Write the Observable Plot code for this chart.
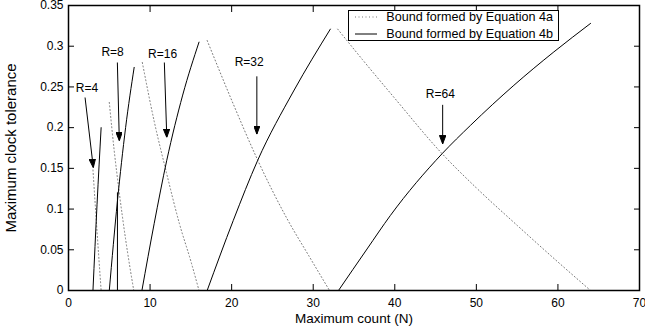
<!DOCTYPE html>
<html><head><meta charset="utf-8">
<script src="https://cdn.jsdelivr.net/npm/d3@7"></script>
<script src="https://cdn.jsdelivr.net/npm/@observablehq/plot@0.6"></script>
<style>
body{margin:0;background:#fff;font-family:"Liberation Sans",Arial,Helvetica,sans-serif;}
#wrap{position:relative;width:645px;height:335px;}
#legend{position:absolute;left:348px;top:10px;width:209px;height:29px;border:1px solid #000;background:#fff;font-size:12.6px;color:#000;}
#legend .row{position:absolute;left:0;right:0;height:16px;}
#legend svg{position:absolute;left:6px;top:0;}
#legend span{position:absolute;right:5px;top:0;line-height:16px;white-space:nowrap;}
</style></head>
<body><div id="wrap"><div id="chart"></div>
<div id="legend">
  <div class="row" style="top:-2px"><svg width="24" height="16"><line x1="0" x2="22" y1="8" y2="8" stroke="#777" stroke-dasharray="1 2.5"/></svg><span id="leg1"></span></div>
  <div class="row" style="top:14.5px"><svg width="24" height="16"><line x1="0" x2="22" y1="8" y2="8" stroke="#000"/></svg><span id="leg2"></span></div>
</div></div>
<script>
// Tick values
const xTicks = [0, 10, 20, 30, 40, 50, 60, 70];
const yTicks = [0, 0.05, 0.1, 0.15, 0.2, 0.25, 0.3, 0.35];
const legendLabels = ["Bound formed by Equation 4a", "Bound formed by Equation 4b"];

// Equation 4a (dotted) bounds, per R
const eq4a_R4_N = [3.0, 3.5, 4.0];
const eq4a_R4_T = [0.148, 0.072, 0.0];
const eq4a_R8_N = [5.0, 5.6, 6.2, 7.0, 8.0];
const eq4a_R8_T = [0.231, 0.172, 0.122, 0.063, 0.0];
const eq4a_R16_N = [9.05, 10.5, 12.0, 13.6, 15.0, 16.0];
const eq4a_R16_T = [0.280, 0.208, 0.145, 0.082, 0.036, 0.0];
const eq4a_R32_N = [17.0, 20.2, 23.2, 26.8, 29.5, 32.0];
const eq4a_R32_T = [0.307, 0.229, 0.160, 0.088, 0.042, 0.0];
const eq4a_R64_N = [33.0, 36.0, 40.0, 45.8, 50.0, 55.0, 60.0, 64.0];
const eq4a_R64_T = [0.321, 0.284, 0.236, 0.168, 0.126, 0.080, 0.035, 0.0];

// Equation 4b (solid) bounds, per R
const eq4b_R4_N = [3.0, 3.5, 4.0];
const eq4b_R4_T = [0.0, 0.106, 0.200];
const eq4b_R8_N = [5.0, 6.0, 7.0, 8.05];
const eq4b_R8_T = [0.0, 0.110, 0.200, 0.274];
const eq4b_R8step_N = [6.0, 6.0];
const eq4b_R8step_T = [0.0, 0.120];
const eq4b_R16_N = [9.0, 10.5, 12.05, 14.0, 16.0];
const eq4b_R16_T = [0.0, 0.082, 0.160, 0.240, 0.305];
const eq4b_R32_N = [17.0, 20.2, 23.2, 27.6, 32.1];
const eq4b_R32_T = [0.0, 0.086, 0.160, 0.245, 0.321];
const eq4b_R64_N = [33.1, 36.6, 39.45, 45.8, 49.3, 54.6, 59.5, 64.0];
const eq4b_R64_T = [0.0, 0.051, 0.092, 0.168, 0.203, 0.252, 0.293, 0.328];

// Annotations
const annLabels = ["R=4", "R=8", "R=16", "R=32", "R=64"];
const annLabelN = [2.27, 5.40, 11.53, 22.15, 45.58];
const annLabelT = [0.249, 0.293, 0.290, 0.280, 0.241];
const arrowFromN = [2.03, 5.99, 11.75, 23.09, 45.87];
const arrowFromT = [0.237, 0.280, 0.280, 0.263, 0.228];
const arrowToN = [3.04, 6.23, 12.05, 23.09, 45.87];
const arrowToT = [0.151, 0.184, 0.188, 0.192, 0.180];

const rows = (name, N, T) => N.map((n, i) => ({series: name, N: n, T: T[i]}));
const dotted = [
  ...rows("R4", eq4a_R4_N, eq4a_R4_T), ...rows("R8", eq4a_R8_N, eq4a_R8_T),
  ...rows("R16", eq4a_R16_N, eq4a_R16_T), ...rows("R32", eq4a_R32_N, eq4a_R32_T),
  ...rows("R64", eq4a_R64_N, eq4a_R64_T)];
const solid = [
  ...rows("R4", eq4b_R4_N, eq4b_R4_T), ...rows("R8", eq4b_R8_N, eq4b_R8_T),
  ...rows("R16", eq4b_R16_N, eq4b_R16_T), ...rows("R32", eq4b_R32_N, eq4b_R32_T),
  ...rows("R64", eq4b_R64_N, eq4b_R64_T)];
const step = rows("R8step", eq4b_R8step_N, eq4b_R8step_T);
const ann = annLabels.map((t, i) => ({t, x: annLabelN[i], y: annLabelT[i],
  x1: arrowFromN[i], y1: arrowFromT[i], x2: arrowToN[i], y2: arrowToT[i]}));

function filledArrow() {
  const ns = "http://www.w3.org/2000/svg";
  const m = document.createElementNS(ns, "marker");
  m.setAttribute("viewBox", "-8.5 -3.2 8.5 6.4");
  m.setAttribute("markerWidth", "8.5");
  m.setAttribute("markerHeight", "6.4");
  m.setAttribute("refX", "0");
  m.setAttribute("refY", "0");
  m.setAttribute("orient", "auto");
  m.setAttribute("markerUnits", "userSpaceOnUse");
  const p = document.createElementNS(ns, "path");
  p.setAttribute("d", "M0,0L-8.5,-3.2L-8.5,3.2Z");
  p.setAttribute("fill", "#000");
  m.appendChild(p);
  return m;
}

const fmtY = d => d3.format("~g")(d);
const font = '"Liberation Sans", Arial, Helvetica, sans-serif';

const chart = Plot.plot({
  width: 645, height: 335,
  marginLeft: 68, marginRight: 6, marginTop: 5, marginBottom: 45,
  style: {fontFamily: font, fontSize: "12px", color: "#000", background: "#fff"},
  x: {domain: [0, 70]},
  y: {domain: [0, 0.35]},
  marks: [
    Plot.line(dotted, {x: "N", y: "T", z: "series", stroke: "#777", strokeWidth: 1, strokeDasharray: "1 2.5", curve: "monotone-x"}),
    Plot.line(solid, {x: "N", y: "T", z: "series", stroke: "#000", strokeWidth: 1, curve: "monotone-x"}),
    Plot.line(step, {x: "N", y: "T", stroke: "#000", strokeWidth: 1}),
    Plot.link(ann, {x1: "x1", y1: "y1", x2: "x2", y2: "y2", stroke: "#000", strokeWidth: 1, markerEnd: filledArrow}),
    Plot.text(ann, {x: "x", y: "y", text: "t", fontSize: 12, fill: "#000"}),
    // inward ticks on all four sides
    Plot.axisX(xTicks, {anchor: "bottom", tickSize: -6, tickFormat: () => "", label: null}),
    Plot.axisX(xTicks, {anchor: "top", tickSize: -6, tickFormat: () => "", label: null}),
    Plot.axisY(yTicks, {anchor: "left", tickSize: -6, tickFormat: () => "", label: null}),
    Plot.axisY(yTicks, {anchor: "right", tickSize: -6, tickFormat: () => "", label: null}),
    // tick labels
    Plot.axisX(xTicks, {anchor: "bottom", tickSize: 0, tickPadding: 8, label: null, fontSize: 12}),
    Plot.axisY(yTicks, {anchor: "left", tickSize: 0, tickPadding: 5, tickFormat: fmtY, label: null, fontSize: 12}),
    Plot.text(["Maximum count (N)"], {frameAnchor: "bottom", dy: 32, fontSize: 13.5, fill: "#000"}),
    Plot.text(["Maximum clock tolerance"], {frameAnchor: "left", textAnchor: "middle", dx: -57, rotate: -90, fontSize: 15, fill: "#000"}),
    Plot.frame({stroke: "#000", strokeWidth: 1.5})
  ]
});
document.getElementById("chart").appendChild(chart);
document.getElementById("leg1").textContent = legendLabels[0];
document.getElementById("leg2").textContent = legendLabels[1];
</script>
</body></html>
